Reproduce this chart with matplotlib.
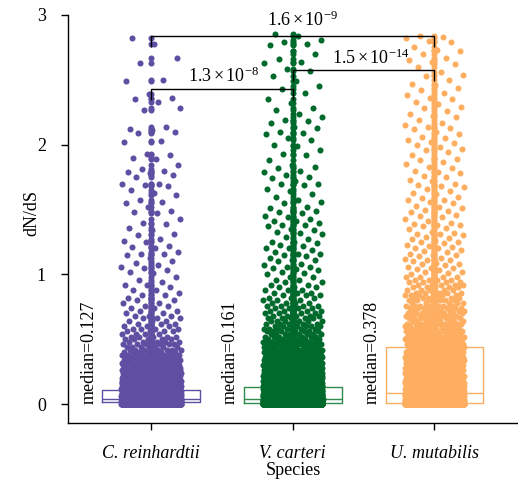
import numpy as np
import matplotlib
matplotlib.use("Agg")
import matplotlib.pyplot as plt

# ---------------- data ----------------
species = ["C. reinhardtii", "V. carteri", "U. mutabilis"]
median_labels = ["median=0.127", "median=0.161", "median=0.378"]

# box statistics
box_q1 = [0.018, 0.010, 0.010]
box_med = [0.039, 0.036, 0.087]
box_q3 = [0.108, 0.129, 0.442]

# dN/dS histogram for the dense part: value grid 0.00 .. 0.98 (step 0.02)
dense_values = [round(0.02 * k, 2) for k in range(50)]
cr_counts = [420, 380, 280, 210, 170, 130, 100, 80, 65, 52,
             42, 35, 30, 25, 21, 18, 15, 13, 11, 10,
             8, 7, 7, 6, 6, 5, 5, 4, 4, 4,
             3, 3, 3, 3, 3, 2, 2, 2, 2, 2,
             2, 2, 2, 1, 2, 1, 2, 1, 1, 1]
vc_counts = [520, 420, 250, 170, 130, 100, 85, 72, 62, 54,
             47, 41, 36, 32, 28, 25, 22, 20, 18, 16,
             14, 13, 12, 11, 10, 9, 8, 8, 7, 7,
             6, 6, 6, 5, 5, 5, 4, 4, 4, 4,
             3, 3, 3, 3, 3, 3, 2, 2, 2, 2]
um_counts = [420, 150, 110, 90, 75, 62, 55, 48, 42, 38,
             34, 30, 28, 26, 24, 22, 20, 19, 18, 17,
             16, 15, 14, 13, 12, 12, 11, 11, 10, 10,
             9, 9, 9, 8, 8, 8, 7, 7, 7, 6,
             6, 6, 6, 5, 5, 5, 5, 4, 4, 4]

# individual values of the sparse upper part (dN/dS >= 1)
cr_upper = [1.01, 1.02, 1.03, 1.05, 1.06, 1.07, 1.09, 1.10, 1.13, 1.15,
            1.16, 1.16, 1.17, 1.20, 1.21, 1.22, 1.25, 1.26, 1.27, 1.30,
            1.31, 1.34, 1.36, 1.39, 1.40, 1.43, 1.47, 1.48, 1.49, 1.52,
            1.55, 1.56, 1.57, 1.61, 1.63, 1.65, 1.68, 1.69, 1.70, 1.70,
            1.75, 1.77, 1.78, 1.79, 1.80, 1.81, 1.84, 1.89, 1.90, 1.92,
            1.93, 2.02, 2.03, 2.09, 2.10, 2.11, 2.12, 2.14, 2.27, 2.28,
            2.33, 2.35, 2.36, 2.39, 2.49, 2.50, 2.63, 2.67, 2.78, 2.82]
vc_upper = [1.00, 1.01, 1.02, 1.03, 1.04, 1.05, 1.06, 1.06, 1.07, 1.08,
            1.10, 1.11, 1.11, 1.13, 1.14, 1.15, 1.16, 1.16, 1.17, 1.19,
            1.20, 1.20, 1.22, 1.23, 1.24, 1.25, 1.25, 1.27, 1.29, 1.31,
            1.32, 1.33, 1.34, 1.35, 1.37, 1.38, 1.38, 1.40, 1.41, 1.41,
            1.43, 1.44, 1.45, 1.47, 1.48, 1.49, 1.50, 1.51, 1.52, 1.55,
            1.56, 1.57, 1.60, 1.62, 1.64, 1.66, 1.69, 1.70, 1.70, 1.72,
            1.74, 1.75, 1.77, 1.79, 1.80, 1.82, 1.83, 1.84, 1.88, 1.92,
            1.93, 1.96, 1.99, 2.00, 2.04, 2.05, 2.08, 2.09, 2.10, 2.13,
            2.14, 2.17, 2.18, 2.19, 2.21, 2.24, 2.27, 2.28, 2.32, 2.35,
            2.40, 2.43, 2.45, 2.49, 2.53, 2.57, 2.58, 2.63, 2.64, 2.66,
            2.70, 2.72, 2.77, 2.78, 2.79, 2.81, 2.84, 2.85]
um_upper = [1.00, 1.00, 1.01, 1.02, 1.02, 1.03, 1.04, 1.05, 1.05, 1.06,
            1.07, 1.08, 1.08, 1.09, 1.10, 1.11, 1.11, 1.12, 1.13, 1.14,
            1.15, 1.15, 1.16, 1.17, 1.18, 1.19, 1.20, 1.20, 1.21, 1.22,
            1.23, 1.24, 1.25, 1.25, 1.26, 1.27, 1.28, 1.29, 1.30, 1.31,
            1.31, 1.32, 1.33, 1.35, 1.36, 1.37, 1.38, 1.38, 1.39, 1.40,
            1.41, 1.43, 1.44, 1.45, 1.46, 1.47, 1.48, 1.49, 1.50, 1.51,
            1.52, 1.53, 1.55, 1.56, 1.57, 1.57, 1.59, 1.60, 1.62, 1.63,
            1.64, 1.66, 1.67, 1.68, 1.69, 1.70, 1.72, 1.73, 1.75, 1.76,
            1.78, 1.79, 1.80, 1.82, 1.83, 1.85, 1.87, 1.88, 1.89, 1.90,
            1.92, 1.94, 1.96, 1.97, 1.98, 2.00, 2.01, 2.02, 2.04, 2.05,
            2.06, 2.08, 2.10, 2.12, 2.13, 2.14, 2.15, 2.17, 2.19, 2.21,
            2.22, 2.24, 2.26, 2.28, 2.29, 2.31, 2.33, 2.35, 2.36, 2.38,
            2.40, 2.42, 2.44, 2.46, 2.47, 2.50, 2.53, 2.54, 2.56, 2.60,
            2.62, 2.64, 2.65, 2.67, 2.70, 2.72, 2.73, 2.75, 2.79, 2.80,
            2.82, 2.83, 2.84]

# significance brackets
bracket_pairs = [(0, 1), (1, 2), (0, 2)]
bracket_heights = [2.43, 2.575, 2.837]
bracket_labels = [r"$\mathregular{1.3\times10^{-8}}$",
                  r"$\mathregular{1.5\times10^{-14}}$",
                  r"$\mathregular{1.6\times10^{-9}}$"]

# ---------------- style ----------------
point_colors = ["#5e4fa2", "#006a2c", "#fdae61"]
box_colors = ["#5e4fa2", "#2f8a4c", "#fdae61"]

plt.rcParams["font.family"] = ["Liberation Serif", "DejaVu Serif"]
plt.rcParams["mathtext.fontset"] = "custom"
plt.rcParams["mathtext.rm"] = "Liberation Serif"
plt.rcParams["mathtext.it"] = "Liberation Serif:italic"

FS = 13

fig = plt.figure(figsize=(5.18, 4.82), dpi=100)
ax = fig.add_axes([68 / 518, 1 - 423 / 482, 1 - 68 / 518, (423 - 15) / 482])

all_counts = [cr_counts, vc_counts, um_counts]
all_upper = [cr_upper, vc_upper, um_upper]

# boxes (behind points)
for i in range(3):
    st = dict(med=box_med[i], q1=box_q1[i], q3=box_q3[i],
              whislo=box_q1[i], whishi=box_q3[i], fliers=[])
    ax.bxp([st], positions=[i], widths=0.69, showcaps=False,
           showfliers=False, patch_artist=False,
           boxprops=dict(color=box_colors[i], linewidth=1.0),
           medianprops=dict(color=box_colors[i], linewidth=1.0),
           whiskerprops=dict(color=box_colors[i], linewidth=1.0),
           manage_ticks=False, zorder=1)


def jitter(n, width=0.21):
    return ((np.arange(n) * 0.6180339887) % 1.0 - 0.5) * 2 * width


for i in range(3):
    vals = np.concatenate([np.repeat(dense_values, all_counts[i]),
                           np.array(all_upper[i])])
    n = len(vals)
    ax.scatter(np.full(n, float(i)), vals, s=19, color=point_colors[i],
               linewidths=0, zorder=2)
    ax.scatter(i + jitter(n), vals, s=19, color=point_colors[i],
               linewidths=0, zorder=2)
    ax.text(i - 0.44, 0.0, median_labels[i], rotation=90, ha="center",
            va="bottom", fontsize=FS, zorder=4)

# brackets
label_x = [0.51, 1.55, 1.07]
label_y = [2.455, 2.595, 2.885]
for k, (a, b) in enumerate(bracket_pairs):
    h = bracket_heights[k]
    drop = 0.085
    ax.plot([a, a, b, b], [h - drop, h, h, h - drop], color="black",
            linewidth=1.0, zorder=5, solid_capstyle="butt")
    ax.text(label_x[k], label_y[k], bracket_labels[k], ha="center",
            va="bottom", fontsize=FS, zorder=6)

ax.set_xlim(-0.587, 2.59)
ax.set_ylim(-0.146, 3.0)
ax.set_xticks(range(3))
ax.set_xticklabels(species, style="italic", fontsize=FS)
ax.set_yticks([0, 1, 2, 3])
ax.set_yticklabels(["0", "1", "2", "3"], fontsize=FS)
ax.tick_params(axis="y", length=5, width=1, pad=11)
ax.tick_params(axis="x", length=5, width=1, pad=11)
for side in ["top", "right"]:
    ax.spines[side].set_visible(False)
for side in ["left", "bottom"]:
    ax.spines[side].set_linewidth(1.0)
ax.set_xlabel("Species", fontsize=FS, labelpad=0)
ax.set_ylabel("dN/dS", fontsize=FS)
ax.yaxis.set_label_coords(-0.062, 0.515)

fig.savefig("out.png", dpi=100)
